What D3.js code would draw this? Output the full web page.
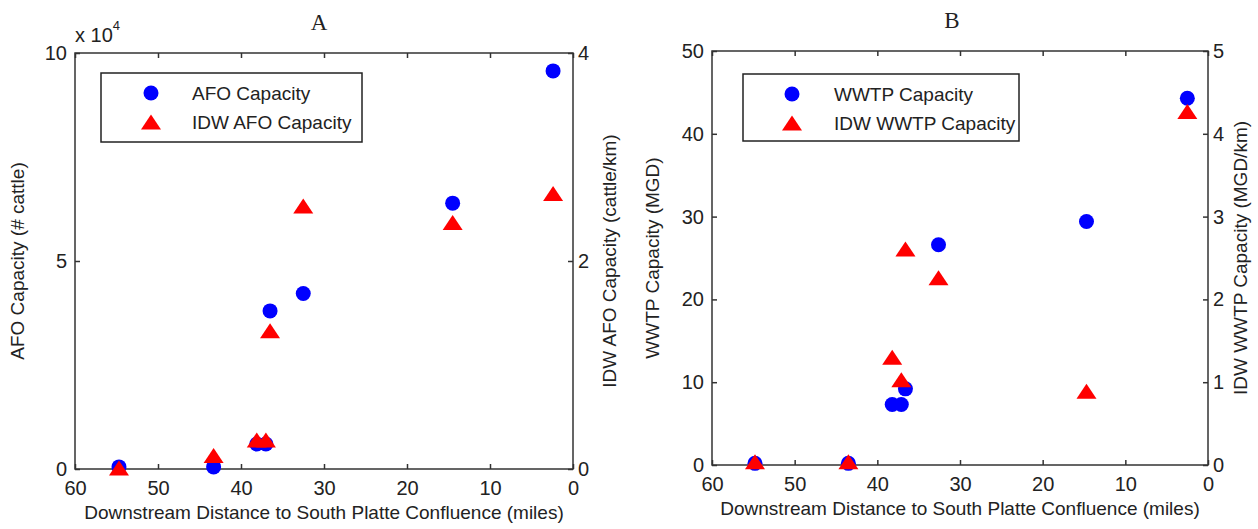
<!DOCTYPE html>
<html lang="en">

<head>
    <meta charset="UTF-8">
    <title>AFO and WWTP capacity</title>
    <style>
        body {
            margin: 0;
            background: #fff;
        }

        svg text {
            font-family: "Liberation Sans", Arial, sans-serif;
            fill: #222;
        }

        .title {
            font-family: "Liberation Serif", "DejaVu Serif", serif !important;
        }
    </style>
</head>

<body>
    <svg id="chart"></svg>
</body>
<script src="https://d3js.org/d3.v7.min.js"></script>
<script>
    // distance upstream of the South Platte confluence (miles)
    const milesA = [54.7, 43.3, 38.1, 37.0, 36.5, 32.5, 14.5, 2.4];
    const milesB = [54.8, 43.5, 38.2, 37.1, 36.6, 32.6, 14.7, 2.5];

    // panel A
    const afoCapacity = [500, 500, 6000, 6000, 38000, 42200, 63900, 95700];   // # cattle
    const idwAfoCapacity = [0.01, 0.13, 0.28, 0.28, 1.33, 2.53, 2.37, 2.65];  // cattle/km

    // panel B
    const wwtpCapacity = [0.2, 0.2, 7.3, 7.3, 9.2, 26.6, 29.4, 44.3];         // MGD
    const idwWwtpCapacity = [0.04, 0.04, 1.30, 1.03, 2.61, 2.26, 0.89, 4.27]; // MGD/km

    const xTicks = [60, 50, 40, 30, 20, 10, 0];
    const afoTicks = [0, 50000, 100000];
    const idwAfoTicks = [0, 2, 4];
    const wwtpTicks = [0, 10, 20, 30, 40, 50];
    const idwWwtpTicks = [0, 1, 2, 3, 4, 5];

    const svg = d3.select("#chart")
        .attr("width", 1258)
        .attr("height", 529);

    svg.append("rect").attr("width", 1258).attr("height", 529).attr("fill", "#fff");

    const tri = "M0,-7.5L10,7.5L-10,7.5Z";

    drawPanel = (p) => {
        const g = svg.append("g").attr("transform", `translate(${p.left},${p.top})`);

        const x = d3.scaleLinear().domain([60, 0]).range([0, p.width]);
        const yL = d3.scaleLinear().domain(p.leftDomain).range([p.height, 0]);
        const yR = d3.scaleLinear().domain(p.rightDomain).range([p.height, 0]);

        const styleAxis = sel => {
            sel.select(".domain").remove();
            sel.selectAll("line").attr("stroke", "#333").attr("stroke-width", 1.5);
            sel.selectAll("text").attr("font-size", 20).attr("fill", "#1a1a1a");
        };

        g.append("g")
            .attr("transform", `translate(0,${p.height})`)
            .call(d3.axisBottom(x).tickValues(xTicks).tickSize(-5).tickPadding(12).tickFormat(d3.format("d")))
            .call(styleAxis);

        g.append("g")
            .call(d3.axisTop(x).tickValues(xTicks).tickSize(-5).tickFormat(""))
            .call(styleAxis);

        g.append("g")
            .call(d3.axisLeft(yL).tickValues(p.leftTicks).tickSize(-5).tickPadding(8).tickFormat(p.leftFormat))
            .call(styleAxis);

        g.append("g")
            .attr("transform", `translate(${p.width},0)`)
            .call(d3.axisRight(yR).tickValues(p.rightTicks).tickSize(-5).tickPadding(5).tickFormat(d3.format("d")))
            .call(styleAxis);

        g.append("rect")
            .attr("width", p.width)
            .attr("height", p.height)
            .attr("fill", "none")
            .attr("stroke", "#333")
            .attr("stroke-width", 1.5);

        // circles first, triangles drawn over them
        g.append("g").selectAll("circle")
            .data(p.miles.map((m, i) => [m, p.leftValues[i]]))
            .join("circle")
            .attr("cx", d => x(d[0]))
            .attr("cy", d => yL(d[1]))
            .attr("r", 7.5)
            .attr("fill", "#0000ff");

        g.append("g").selectAll("path")
            .data(p.miles.map((m, i) => [m, p.rightValues[i]]))
            .join("path")
            .attr("d", tri)
            .attr("transform", d => `translate(${x(d[0])},${yR(d[1])})`)
            .attr("fill", "#ff0000");

        // legend
        const lg = g.append("g").attr("transform", `translate(${p.legend.x},${p.legend.y})`);
        lg.append("rect")
            .attr("width", p.legend.w)
            .attr("height", p.legend.h)
            .attr("fill", "#fff")
            .attr("stroke", "#222")
            .attr("stroke-width", 1.5);
        lg.append("circle").attr("cx", p.legend.mx).attr("cy", 20).attr("r", 7.5).attr("fill", "#0000ff");
        lg.append("path").attr("d", tri).attr("transform", `translate(${p.legend.mx},49)`).attr("fill", "#ff0000");
        lg.append("text").attr("x", p.legend.tx).attr("y", 26.5).attr("font-size", 19).text(p.leftName);
        lg.append("text").attr("x", p.legend.tx).attr("y", 55.5).attr("font-size", 19).text(p.rightName);

        // titles and axis labels
        g.append("text")
            .attr("class", "title")
            .attr("x", p.width / 2 + p.titleDx)
            .attr("y", -23)
            .attr("text-anchor", "middle")
            .attr("font-size", 23)
            .attr("fill", "#000")
            .text(p.title);

        g.append("text")
            .attr("x", p.width / 2)
            .attr("y", p.height + 50)
            .attr("text-anchor", "middle")
            .attr("font-size", 19)
            .attr("fill", "#333")
            .text("Downstream Distance to South Platte Confluence (miles)");

        g.append("text")
            .attr("transform", `translate(${p.leftLabelX},${p.height / 2}) rotate(-90)`)
            .attr("text-anchor", "middle")
            .attr("dominant-baseline", "middle")
            .attr("font-size", 19)
            .attr("fill", "#333")
            .text(p.leftLabel);

        g.append("text")
            .attr("transform", `translate(${p.width + p.rightLabelX},${p.height / 2}) rotate(-90)`)
            .attr("text-anchor", "middle")
            .attr("dominant-baseline", "middle")
            .attr("font-size", 19)
            .attr("fill", "#333")
            .text(p.rightLabel);

        return g;
    }

    const gA = drawPanel({
        left: 75, top: 53, width: 498, height: 416,
        miles: milesA,
        leftValues: afoCapacity, rightValues: idwAfoCapacity,
        leftDomain: [0, 100000], rightDomain: [0, 4],
        leftTicks: afoTicks, rightTicks: idwAfoTicks,
        leftFormat: d => d / 10000,
        leftName: "AFO Capacity", rightName: "IDW AFO Capacity",
        leftLabel: "AFO Capacity (# cattle)", rightLabel: "IDW AFO Capacity (cattle/km)",
        leftLabelX: -56, rightLabelX: 38,
        title: "A", titleDx: -5,
        legend: { x: 26, y: 20, w: 261, h: 69, mx: 50, tx: 91 }
    });

    // exponent label above the left axis
    const expo = gA.append("text").attr("x", 0).attr("y", -11).attr("font-size", 20);
    expo.append("tspan").text("x 10");
    expo.append("tspan").attr("dy", -12).attr("font-size", 13).text("4");

    drawPanel({
        left: 712, top: 51, width: 496, height: 414,
        miles: milesB,
        leftValues: wwtpCapacity, rightValues: idwWwtpCapacity,
        leftDomain: [0, 50], rightDomain: [0, 5],
        leftTicks: wwtpTicks, rightTicks: idwWwtpTicks,
        leftFormat: d3.format("d"),
        leftName: "WWTP Capacity", rightName: "IDW WWTP Capacity",
        leftLabel: "WWTP Capacity (MGD)", rightLabel: "IDW WWTP Capacity (MGD/km)",
        leftLabelX: -58, rightLabelX: 34,
        title: "B", titleDx: -8,
        legend: { x: 31, y: 23, w: 276, h: 67, mx: 49, tx: 91 }
    });
</script>

</html>
